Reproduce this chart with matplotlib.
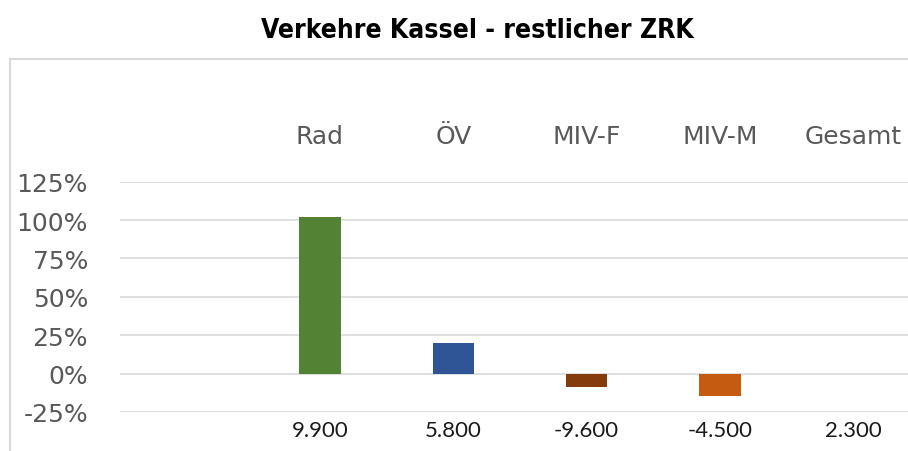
import matplotlib
matplotlib.use("Agg")
import matplotlib.pyplot as plt
from matplotlib.lines import Line2D
from matplotlib.ticker import PercentFormatter

plt.rcParams["axes.unicode_minus"] = False

# Anteile der Verkehrsarten (Veraenderung in %)
modes = ["Rad", "ÖV", "MIV-F", "MIV-M", "Gesamt"]
shares = [102, 20, -9, -14.5, 0]
counts = ["9.900", "5.800", "-9.600", "-4.500", "2.300"]
colors = ["#548235", "#2F5597", "#843C0C", "#C55A11", "#7F7F7F"]
y_ticks = [-25, 0, 25, 50, 75, 100, 125]

fig = plt.figure(figsize=(9.08, 4.52), dpi=100)
ax = fig.add_axes([120 / 908, 1 - 413 / 452, 1 - 120 / 908, (413 - 182.7) / 452])

x = list(range(len(modes)))
ax.bar(x, shares, width=0.31, color=colors, linewidth=0, zorder=3)

ax.set_xlim(-1.5, 4.41)
ax.set_ylim(-25, 125)
ax.set_yticks(y_ticks)
ax.yaxis.set_major_formatter(PercentFormatter(decimals=0))
ax.grid(axis="y", color="#D9D9D9", linewidth=1.2, zorder=0)
for s in ax.spines.values():
    s.set_visible(False)

ax.set_xticks(x)
ax.set_xticklabels(counts, fontsize=16, color="#1a1a1a", family=["Lato", "DejaVu Sans"])
ax.tick_params(axis="x", length=0, pad=6)
ax.tick_params(axis="y", length=0, pad=23, labelsize=18, labelcolor="#595959")
for lbl in ax.get_yticklabels():
    lbl.set_family(["DejaVu Sans"])

# Kopfzeile mit den Verkehrsarten
for i, name in enumerate(modes):
    ax.text(i, 1.198, name, transform=ax.get_xaxis_transform(), ha="center", va="center",
            fontsize=18, color="#595959", family=["DejaVu Sans"])

fig.text(477 / 908, 1 - 31 / 452, "Verkehre Kassel - restlicher ZRK", ha="center", va="center",
         fontsize=19, fontweight="bold", fontstretch="condensed", family=["DejaVu Sans"])

# Rahmen des Diagrammbereichs
fig.add_artist(Line2D([10 / 908, 10 / 908], [0, 1 - 60 / 452], transform=fig.transFigure,
                      color="#D9D9D9", linewidth=1.5))
fig.add_artist(Line2D([10 / 908, 1], [1 - 60 / 452, 1 - 60 / 452], transform=fig.transFigure,
                      color="#D9D9D9", linewidth=1.5))

fig.savefig("out.png", dpi=100)
